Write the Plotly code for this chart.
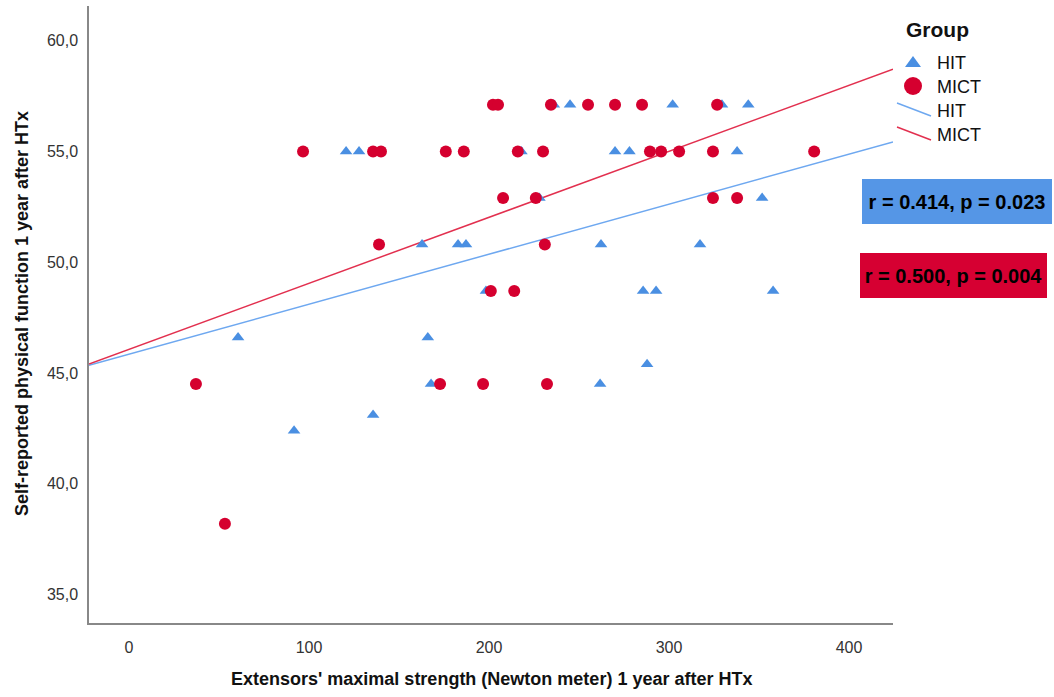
import numpy as np
import plotly.graph_objects as go

# Extensors' maximal strength (Nm) and self-reported physical function, per group
hit_strength = [236, 245, 302, 329.4, 344,
                120.6, 127.8, 218, 270, 278, 337.8,
                228, 351.7,
                162.8, 182.8, 187.2, 262.2, 317.2,
                198.3, 285.6, 292.8, 357.8,
                60.6, 166,
                287.8,
                167.8, 261.7,
                135.6,
                91.7]
hit_function = [57.1, 57.1, 57.1, 57.1, 57.1,
                55.0, 55.0, 55.0, 55.0, 55.0, 55.0,
                52.9, 52.9,
                50.8, 50.8, 50.8, 50.8, 50.8,
                48.7, 48.7, 48.7, 48.7,
                46.6, 46.6,
                45.4,
                44.5, 44.5,
                43.1,
                42.4]

mict_strength = [202.2, 205, 234.4, 255, 270, 285, 326.7,
                 96.7, 135.6, 140, 176, 186, 216, 230, 289.4, 295.6, 305.6, 324.4, 380.6,
                 207.8, 226, 324.4, 337.8,
                 138.9, 231,
                 201, 214,
                 37.2, 172.8, 196.7, 232.2,
                 53.3]
mict_function = [57.1] * 7 + [55.0] * 12 + [52.9] * 4 + [50.8] * 2 + [48.7] * 2 + [44.5] * 4 + [38.2]

group_names = ["HIT", "MICT"]
stat_labels = ["r = 0.414, p = 0.023", "r = 0.500, p = 0.004"]

x_ticks = [0, 100, 200, 300, 400]
y_ticks = [35, 40, 45, 50, 55, 60]
x_range = [-22.2, 424.4]
y_range = [33.72, 61.56]

BLUE_MARK = "#4A8FE2"
RED_MARK = "#D5002F"
BLUE_LINE = "#6EA8F0"
RED_LINE = "#E2304F"
BLUE_BOX = "#5596E6"
RED_BOX = "#D60032"
FONT = "Liberation Sans, Arial, sans-serif"

W, H = 1054, 697
M_L, M_R, M_T, M_B = 89, 161, 6, 74
PW, PH = W - M_L - M_R, H - M_T - M_B


def px(xp):
    return (xp - M_L) / PW


def py(yp):
    return (H - M_B - yp) / PH


fig = go.Figure()

# Linear fit lines, spanning the full x axis
fit_x = np.array(x_range)
for xs, ys, col in [(hit_strength, hit_function, BLUE_LINE),
                    (mict_strength, mict_function, RED_LINE)]:
    slope, icpt = np.polyfit(xs, ys, 1)
    fig.add_trace(go.Scatter(x=fit_x, y=icpt + slope * fit_x, mode="lines",
                             line=dict(color=col, width=1.5),
                             showlegend=False, hoverinfo="skip"))

fig.add_trace(go.Scatter(x=hit_strength, y=hit_function, mode="markers", name="HIT",
                         marker=dict(symbol="triangle-up", size=11, color=BLUE_MARK,
                                     line=dict(width=0)),
                         showlegend=False))
fig.add_trace(go.Scatter(x=mict_strength, y=mict_function, mode="markers", name="MICT",
                         marker=dict(symbol="circle", size=12, color=RED_MARK,
                                     line=dict(width=0)),
                         showlegend=False))

shapes = []
annotations = []

# Legend, drawn by hand
annotations.append(dict(text="<b>Group</b>", xref="paper", yref="paper",
                        x=px(904), y=py(30), xanchor="left", yanchor="middle",
                        showarrow=False, font=dict(family=FONT, size=21, color="#111")))
shapes.append(dict(type="path", xref="paper", yref="paper",
                   xsizemode="pixel", ysizemode="pixel",
                   xanchor=px(913), yanchor=py(62),
                   path="M -8,-5 L 8,-5 L 0,6 Z",
                   fillcolor=BLUE_MARK, line=dict(width=0)))
shapes.append(dict(type="circle", xref="paper", yref="paper",
                   xsizemode="pixel", ysizemode="pixel",
                   xanchor=px(913), yanchor=py(86),
                   x0=-9, x1=9, y0=-9, y1=9,
                   fillcolor=RED_MARK, line=dict(width=0)))
shapes.append(dict(type="line", xref="paper", yref="paper",
                   x0=px(897), y0=py(103), x1=px(931), y1=py(116),
                   line=dict(color=BLUE_LINE, width=1.5)))
shapes.append(dict(type="line", xref="paper", yref="paper",
                   x0=px(897), y0=py(127), x1=px(931), y1=py(140),
                   line=dict(color=RED_LINE, width=1.5)))
for label, yp in zip(group_names + group_names, [63, 87, 111, 135]):
    annotations.append(dict(text=label, xref="paper", yref="paper",
                            x=px(935), y=py(yp), xanchor="left", yanchor="middle",
                            showarrow=False, font=dict(family=FONT, size=18, color="#111")))

# Correlation boxes
for label, bg, left, top, w in [(stat_labels[0], BLUE_BOX, 862, 179, 186),
                                (stat_labels[1], RED_BOX, 860, 253, 183)]:
    annotations.append(dict(text="<b>" + label + "</b>", xref="paper", yref="paper",
                            x=px(left), y=py(top), xanchor="left", yanchor="top",
                            width=w, height=41, align="center", valign="middle",
                            bgcolor=bg, borderpad=2, borderwidth=0, showarrow=False,
                            font=dict(family=FONT, size=20, color="#000")))

# Axis titles
annotations.append(dict(text="<b>Extensors' maximal strength (Newton meter) 1 year after HTx</b>",
                        xref="paper", yref="paper", x=px(491), y=py(679),
                        xanchor="center", yanchor="middle", showarrow=False,
                        font=dict(family=FONT, size=18, color="#111")))
annotations.append(dict(text="<b>Self-reported physical function 1 year after HTx</b>",
                        xref="paper", yref="paper", x=px(22), y=py(314),
                        xanchor="center", yanchor="middle", textangle=-90, showarrow=False,
                        font=dict(family=FONT, size=18, color="#111")))

fig.update_layout(
    width=W, height=H,
    margin=dict(l=M_L, r=M_R, t=M_T, b=M_B, pad=0),
    paper_bgcolor="white", plot_bgcolor="white",
    separators=", ",
    shapes=shapes, annotations=annotations,
    showlegend=False,
    xaxis=dict(range=x_range, tickvals=x_ticks, showgrid=False, zeroline=False,
               showline=True, linecolor="#888", linewidth=1.5, ticks="",
               ticklabelstandoff=9,
               tickfont=dict(family=FONT, size=16, color="#333")),
    yaxis=dict(range=y_range, tickvals=y_ticks, tickformat=".1f", showgrid=False,
               zeroline=False, showline=True, linecolor="#888", linewidth=1.5, ticks="",
               ticklabelstandoff=6,
               tickfont=dict(family=FONT, size=16, color="#333")),
)

fig.write_html("out.html")
